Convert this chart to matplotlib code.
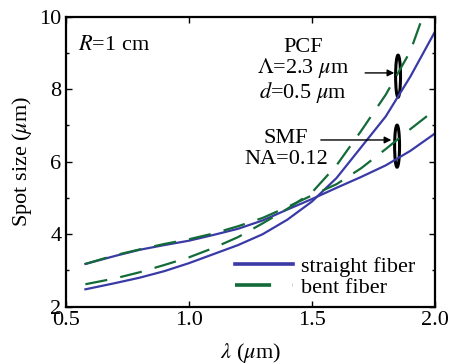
import matplotlib
matplotlib.use("Agg")
import matplotlib.pyplot as plt
from matplotlib.patches import Ellipse

plt.rcParams['font.family'] = ['Liberation Serif', 'DejaVu Serif']
plt.rcParams['mathtext.fontset'] = 'stix'

# wavelength (um)
lam = [0.58, 0.7, 0.8, 0.9, 1.0, 1.1, 1.2, 1.3, 1.4, 1.5, 1.6, 1.7, 1.8, 1.9, 2.0]
smf_straight = [3.18, 3.40, 3.57, 3.70, 3.82, 3.98, 4.15, 4.38, 4.68, 4.97, 5.28, 5.58, 5.90, 6.30, 6.78]
smf_bent = [3.18, 3.42, 3.58, 3.73, 3.86, 4.02, 4.22, 4.45, 4.75, 5.07, 5.38, 5.82, 6.35, 6.90, 7.43]
pcf_straight = [2.48, 2.65, 2.80, 2.98, 3.20, 3.45, 3.70, 4.00, 4.40, 4.90, 5.55, 6.40, 7.25, 8.35, 9.59]
lam_pcf_bent = [0.58, 0.7, 0.8, 0.9, 1.0, 1.1, 1.2, 1.3, 1.4, 1.5, 1.6, 1.7, 1.8, 1.9, 1.95, 2.0]
pcf_bent = [2.62, 2.78, 2.95, 3.15, 3.36, 3.62, 3.92, 4.30, 4.70, 5.15, 5.90, 6.85, 7.85, 9.05, 10.0, 10.9]

xticks = [0.5, 1.0, 1.5, 2.0]
xticklabels = ['0.5', '1.0', '1.5', '2.0']
yticks = [2, 4, 6, 8, 10]

blue = '#3a3aa6'
green = '#136b38'
FS = 16

fig = plt.figure(figsize=(4.51, 3.64), dpi=100)
ax = fig.add_axes([0.1457, 0.1574, 0.9645 - 0.1457, 0.954 - 0.1574])

ax.plot(lam, smf_straight, color=blue, lw=1.6, label='straight fiber')
ax.plot(lam, pcf_straight, color=blue, lw=1.6)
ax.plot(lam, smf_bent, color=green, lw=1.6, dashes=(10, 6), label='bent fiber')
ax.plot(lam_pcf_bent, pcf_bent, color=green, lw=1.6, dashes=(10, 6))

ax.set_xlim(0.5, 2.0)
ax.set_ylim(2, 10)
ax.set_xticks(xticks)
ax.set_xticklabels(xticklabels)
ax.set_yticks(yticks)
ax.set_yticks([3, 5, 7, 9], minor=True)
ax.tick_params(which='both', direction='in', top=True, right=True, labelsize=FS)
ax.tick_params(axis='x', pad=3)
ax.tick_params(axis='y', pad=3)
ax.tick_params(which='major', length=4, width=1)
ax.tick_params(which='minor', length=2, width=1)
for s in ax.spines.values():
    s.set_linewidth(1.6)

ax.set_xlabel(r'$\lambda$ ($\mu$m)', fontsize=FS, labelpad=8)
ax.set_ylabel(r'Spot size ($\mu$m)', fontsize=FS, labelpad=4)

# annotations
ax.text(0.55, 9.22, r'$R$=1 cm', fontsize=FS, ha='left', va='center')
ax.text(1.463, 8.5, 'PCF\n' + r'$\Lambda$=2.3 $\mu$m' + '\n' + r'$d$=0.5 $\mu$m',
        fontsize=FS, ha='center', va='center', multialignment='center', linespacing=0.97)
ax.text(1.395, 6.36, 'SMF\nNA=0.12', fontsize=FS, ha='center', va='center',
        multialignment='center', linespacing=1.15)

ax.annotate('', xy=(1.846, 8.45), xytext=(1.705, 8.45),
            arrowprops=dict(arrowstyle='-|>', color='black', lw=1.0, mutation_scale=10))
ax.annotate('', xy=(1.834, 6.6), xytext=(1.525, 6.6),
            arrowprops=dict(arrowstyle='-|>', color='black', lw=1.0, mutation_scale=10))
ax.add_patch(Ellipse((1.85, 8.36), 0.02, 1.16, fill=False, edgecolor='black', lw=2.2))
ax.add_patch(Ellipse((1.846, 6.43), 0.02, 1.16, fill=False, edgecolor='black', lw=2.2))

leg = ax.legend(loc='lower right', frameon=False, fontsize=FS, handlelength=2.6,
                handletextpad=0.35, labelspacing=0.0, borderaxespad=0.0,
                bbox_to_anchor=(0.97, 0.0))
for h in leg.get_lines():
    h.set_linewidth(2.6)

fig.savefig('out.png', dpi=100)
